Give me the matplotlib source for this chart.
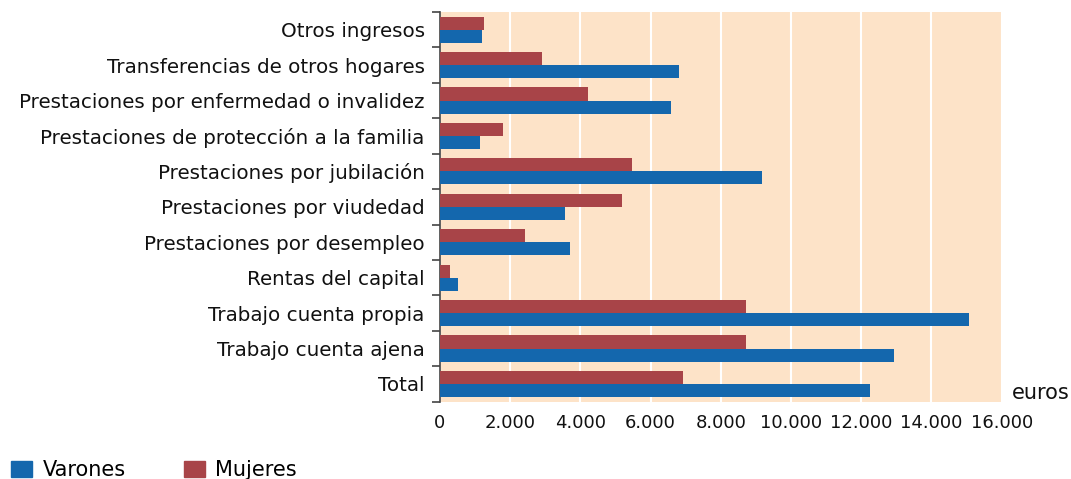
import matplotlib.pyplot as plt
import numpy as np
from matplotlib.patches import Patch
from matplotlib.ticker import FuncFormatter, FixedLocator

categories = [
    'Otros ingresos',
    'Transferencias de otros hogares',
    'Prestaciones por enfermedad o invalidez',
    'Prestaciones de protección a la familia',
    'Prestaciones por jubilación',
    'Prestaciones por viudedad',
    'Prestaciones por desempleo',
    'Rentas del capital',
    'Trabajo cuenta propia',
    'Trabajo cuenta ajena',
    'Total',
]
varones = [1190, 6820, 6570, 1130, 9170, 3550, 3690, 500, 15080, 12930, 12260]
mujeres = [1260, 2900, 4230, 1790, 5460, 5180, 2410, 280, 8720, 8730, 6910]

BLUE = '#1467ad'
RED = '#a84448'
BG = '#fde3c8'

plt.rcParams['font.family'] = ['DejaVu Sans']

fig = plt.figure(figsize=(10.71, 4.79), dpi=100)
ax = fig.add_axes([0.4108, 0.1615, 0.5245, 0.8135])
ax.set_facecolor(BG)

y = np.arange(len(categories))
h = 0.37
ax.barh(y - h / 2, mujeres, height=h, color=RED, zorder=3)
ax.barh(y + h / 2, varones, height=h, color=BLUE, zorder=3)

ax.set_xlim(0, 16000)
ax.set_ylim(len(categories) - 0.5, -0.5)
ax.set_xticks(np.arange(0, 16001, 2000))
ax.xaxis.set_major_formatter(FuncFormatter(lambda v, p: f'{int(v):,}'.replace(',', '.')))
ax.tick_params(axis='x', length=0, labelsize=13, pad=9, colors='#111111')
ax.grid(axis='x', color='white', linewidth=1.5, zorder=1)

ax.set_yticks(y)
ax.set_yticklabels(categories, fontsize=14.3, color='#111111')
ax.tick_params(axis='y', which='major', length=0, pad=11)
ax.yaxis.set_minor_locator(FixedLocator(np.arange(-0.5, len(categories), 1)))
ax.tick_params(axis='y', which='minor', length=6, width=1.2, color='#444444')

for s in ['top', 'right', 'bottom']:
    ax.spines[s].set_visible(False)
ax.spines['left'].set_color('#444444')
ax.spines['left'].set_linewidth(1.2)

fig.text(1012 / 1071, 1 - 393 / 479, 'euros', fontsize=15, va='center', ha='left', color='#111111')

handles = [Patch(color=BLUE, label='Varones'), Patch(color=RED, label='Mujeres')]
fig.legend(handles=handles, loc='lower left', bbox_to_anchor=(-0.007, -0.042), ncol=2, frameon=False,
           fontsize=15, handlelength=1.0, handleheight=0.75, handletextpad=0.5, columnspacing=2.8)

fig.savefig('out.png', dpi=100)
